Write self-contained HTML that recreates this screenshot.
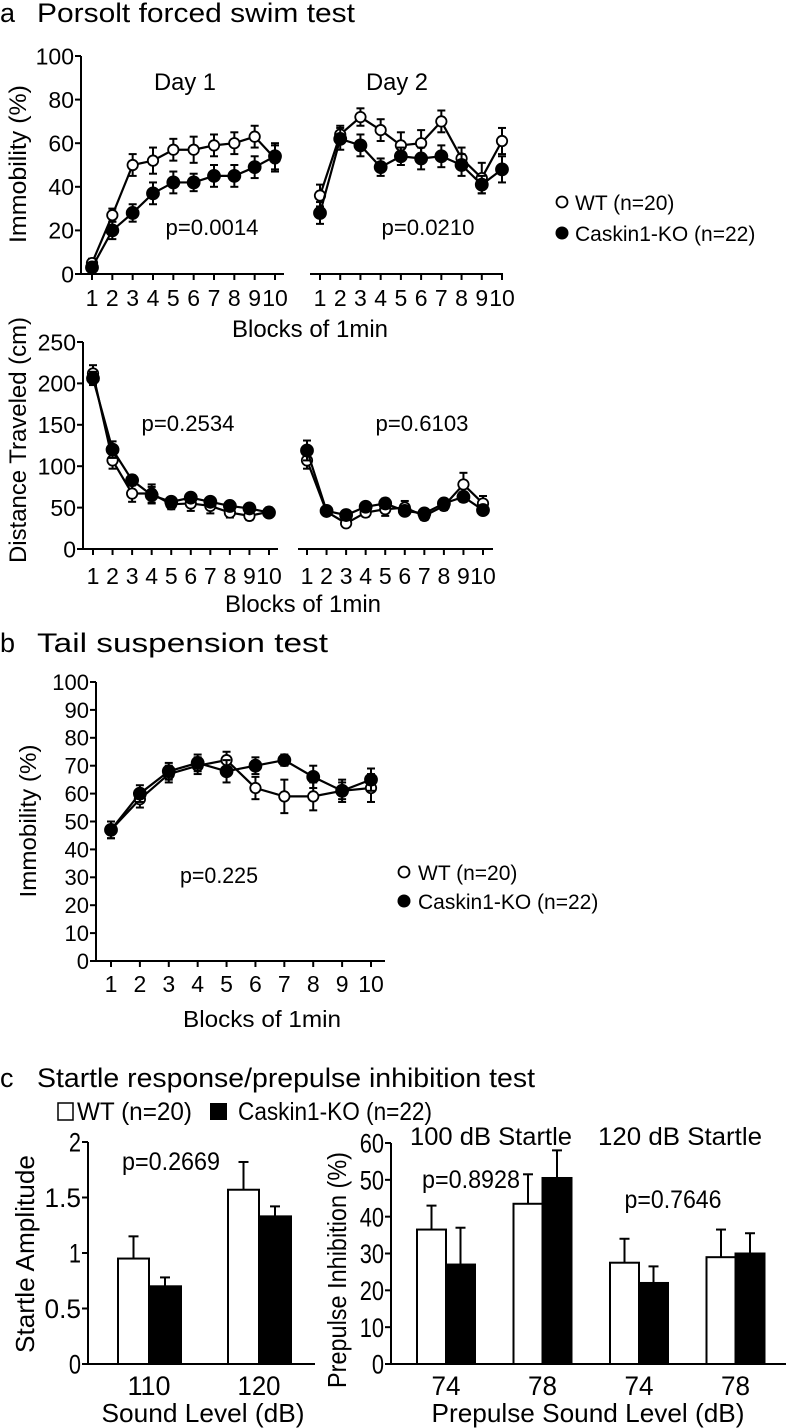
<!DOCTYPE html>
<html><head><meta charset="utf-8"><style>
html,body{margin:0;padding:0;background:#fff}
svg{display:block;font-family:"Liberation Sans",Arial,sans-serif}
</style></head><body>
<svg id="fig" width="786" height="1428" viewBox="0 0 786 1428" xmlns="http://www.w3.org/2000/svg">
<text x="0" y="22" font-size="27">a</text>
<text x="37" y="22" font-size="27" textLength="318" lengthAdjust="spacingAndGlyphs">Porsolt forced swim test</text>
<text x="0" y="652" font-size="27">b</text>
<text x="37" y="652" font-size="27" textLength="291" lengthAdjust="spacingAndGlyphs">Tail suspension test</text>
<text x="0" y="1087" font-size="27">c</text>
<text x="37" y="1087" font-size="27" textLength="498" lengthAdjust="spacingAndGlyphs">Startle response/prepulse inhibition test</text>
</svg>
<script>
// ---- data ----
const blocks = [1,2,3,4,5,6,7,8,9,10];
const blockLabelsA = ['1','2','3','4','5','6','7','8','9','10'];
const fstTicks = [0,20,40,60,80,100];
const fstDay1WT = [5,27,50,52,57,57,59,60,63,53];
const fstDay1WTerr = [2,3,5,6,5,6,5,5,5,6];
const fstDay1KO = [3,20,28,37,42,42,45,45,49,54];
const fstDay1KOerr = [2,4,4,5,5,4,5,5,5,6];
const fstDay2WT = [36,64,72,66,59,60,70,53,44,61];
const fstDay2WTerr = [5,4,4,5,6,6,5,5,7,6];
const fstDay2KO = [28,62,59,49,54,53,54,50,41,48];
const fstDay2KOerr = [5,5,5,4,4,5,5,5,4,6];
const distTicks = [0,50,100,150,200,250];
const distDay1WT = [212,107,67,67,54,55,52,44,40,45];
const distDay1WTerr = [10,10,10,11,6,9,9,6,5,5];
const distDay1KO = [206,120,83,65,57,62,57,52,49,44];
const distDay1KOerr = [8,10,6,10,5,5,5,5,5,5];
const distDay2WT = [107,45,31,44,48,50,40,52,78,55];
const distDay2WTerr = [10,4,4,5,8,8,5,5,14,9];
const distDay2KO = [119,46,41,51,55,46,43,55,63,47];
const distDay2KOerr = [12,4,4,4,6,5,4,5,6,4];
const tstTicks = [0,10,20,30,40,50,60,70,80,90,100];
const tstWT = [47,58,67,70,72,62,59,59,61,62];
const tstWTerr = [3,3,3,3,3,4,6,5,3,5];
const tstKO = [47,60,68,71,68,70,72,66,61,65];
const tstKOerr = [3,3,3,3,4,3,2,4,4,4];
const startleLevels = ['110','120'];
const startleWT = [0.95,1.57];
const startleWTerr = [0.2,0.25];
const startleKO = [0.7,1.33];
const startleKOerr = [0.08,0.09];
const startleTicks = [0,0.5,1,1.5,2];
const startleTickLabels = ['0','0.5','1','1.5','2'];
const ppiLevels = ['74','78','74','78'];
const ppiWT = [36.5,43.5,27.5,29];
const ppiWTerr = [6.5,8,6.5,7.5];
const ppiKO = [27,50.5,22,30];
const ppiKOerr = [10,7.5,4.5,5.5];
const ppiTicks = [0,10,20,30,40,50,60];

const NS='http://www.w3.org/2000/svg';
const svg=document.getElementById('fig');
function mk(tag,attrs,parent){const e=document.createElementNS(NS,tag);for(const k in attrs)e.setAttribute(k,attrs[k]);(parent||svg).appendChild(e);return e;}
function txt(x,y,s,size,anchor,parent,len){const t=mk('text',{x:x,y:y,'font-size':size,'text-anchor':anchor||'middle'},parent);
  if(len){t.setAttribute('textLength',len);t.setAttribute('lengthAdjust','spacingAndGlyphs');}
  t.textContent=s;return t;}
function vtxt(x,y,s,size,len){const t=txt(0,0,s,size,'middle',null,len);t.setAttribute('transform','translate('+x+','+y+') rotate(-90)');return t;}

function yAxis(g,x,y0,y1,vmax,ticks,labels,size,condensed){
  const sc=v=>y0-(v/vmax)*(y0-y1);
  mk('line',{x1:x,y1:y0,x2:x,y2:y1,stroke:'#000','stroke-width':2},g);
  ticks.forEach((v,i)=>{const y=sc(v);
    mk('line',{x1:x-6,y1:y,x2:x,y2:y,stroke:'#000','stroke-width':2},g);
    const s=labels?labels[i]:String(v);
    txt(x-7,y+size*0.36,s,size,'end',g,condensed?s.length*size*0.45:null);});
  return sc;
}
function series(g,xs,vals,errs,filled,name){
  const s=mk('g',{},g);
  
  
  let d='';
  vals.forEach((v,i)=>{d+=(i?'L':'M')+xs(i)+' '+v.sc(v.v)+' ';});
  mk('path',{d:d,fill:'none',stroke:'#000','stroke-width':2.2},s);
  vals.forEach((v,i)=>{const x=xs(i);const yt=v.sc(v.v+errs[i]),yb=v.sc(v.v-errs[i]);
    mk('line',{x1:x,y1:yt,x2:x,y2:yb,stroke:'#000','stroke-width':2},s);
    mk('line',{x1:x-4,y1:yt,x2:x+4,y2:yt,stroke:'#000','stroke-width':2},s);
    mk('line',{x1:x-4,y1:yb,x2:x+4,y2:yb,stroke:'#000','stroke-width':2},s);});
  vals.forEach((v,i)=>{const c=mk('circle',{cx:xs(i),cy:v.sc(v.v),r:filled?6:5.2,fill:filled?'#000':'#fff',stroke:'#000','stroke-width':1.8},s);
    
    });
}
function linePanel(name,axX0,axX1,x1,x10,sc,wt,wte,ko,koe,labelY,labSize){
  const g=mk('g',{});
  
  
  const y0=sc(0);
  mk('line',{x1:axX0,y1:y0,x2:axX1,y2:y0,stroke:'#000','stroke-width':2},g);
  const xs=i=>x1+(blocks[i]-1)*(x10-x1)/9;
  blocks.forEach((b,i)=>{mk('line',{x1:xs(i),y1:y0,x2:xs(i),y2:y0+6,stroke:'#000','stroke-width':2},g);
    txt(xs(i),labelY,blockLabelsA[i],labSize,'middle',g);});
  series(g,xs,wt.map(v=>({v:v,sc:sc})),wte,false,name+'-wt-line');
  series(g,xs,ko.map(v=>({v:v,sc:sc})),koe,true,name+'-ko-line');
  return g;
}

// ---- Panel a top ----
let ga=mk('g',{});  
const scA=yAxis(ga,81,274,56,100,fstTicks,null,23);
linePanel('fst-day1',77,284,92,275,scA,fstDay1WT,fstDay1WTerr,fstDay1KO,fstDay1KOerr,306,23);
linePanel('fst-day2',310,503,320,502,scA,fstDay2WT,fstDay2WTerr,fstDay2KO,fstDay2KOerr,306,23);
vtxt(26,164,'Immobility (%)',24,158);
txt(185,90,'Day 1',24,'middle',null,62);txt(397,90,'Day 2',24,'middle',null,62);
txt(212,235,'p=0.0014',22,'middle',null,93);txt(428,235,'p=0.0210',22,'middle',null,93);
txt(310,337,'Blocks of 1min',24,'middle',null,156);
// legend a
mk('circle',{cx:562,cy:202,r:5.5,fill:'#fff',stroke:'#000','stroke-width':1.8});
txt(575,210,'WT (n=20)',21,'start');
mk('circle',{cx:562,cy:233,r:6.5,fill:'#000'});
txt(575,241,'Caskin1-KO (n=22)',21,'start');

// ---- Panel a bottom ----
let gd=mk('g',{});  
const scD=yAxis(gd,83,549,342,250,distTicks,null,23);
linePanel('dist-day1',83,278,93,269,scD,distDay1WT,distDay1WTerr,distDay1KO,distDay1KOerr,584,23);
linePanel('dist-day2',298,493,307,483,scD,distDay2WT,distDay2WTerr,distDay2KO,distDay2KOerr,584,23);
vtxt(26,440,'Distance Traveled (cm)',24,246);
txt(188,431,'p=0.2534',22,'middle',null,93);txt(422,431,'p=0.6103',22,'middle',null,93);
txt(303,612,'Blocks of 1min',24,'middle',null,156);

// ---- Panel b ----
let gb=mk('g',{});  
const scB=yAxis(gb,96,961,682,100,tstTicks,null,22);
linePanel('tst',96,385,111,371,scB,tstWT,tstWTerr,tstKO,tstKOerr,992,23);
vtxt(36,821,'Immobility (%)',23,153);
txt(219,883,'p=0.225',22,'middle',null,78);
txt(262,1027,'Blocks of 1min',23,'middle',null,158);
mk('circle',{cx:404,cy:872,r:5.5,fill:'#fff',stroke:'#000','stroke-width':1.8});
txt(418,880,'WT (n=20)',21,'start');
mk('circle',{cx:404,cy:901,r:6.5,fill:'#000'});
txt(418,909,'Caskin1-KO (n=22)',21,'start');

// ---- Panel c ----
function bars(name,g,xs,sc,vals,errs,w,filled){
  vals.forEach((v,i)=>{const x=xs(i);
    const r=mk('rect',{x:x,y:sc(v),width:w,height:sc(0)-sc(v),fill:filled?'#000':'#fff',stroke:'#000','stroke-width':2},g);
    
    
    const cx=x+w/2,yt=sc(v+errs[i]);
    mk('line',{x1:cx,y1:sc(v),x2:cx,y2:yt,stroke:'#000','stroke-width':2},g);
    mk('line',{x1:cx-5,y1:yt,x2:cx+5,y2:yt,stroke:'#000','stroke-width':2},g);});
}
let gs=mk('g',{});  
const scS=yAxis(gs,88,1364,1142,2,startleTicks,startleTickLabels,27,true);
mk('line',{x1:88,y1:1364,x2:315,y2:1364,stroke:'#000','stroke-width':2},gs);
const sx=i=>118+i*110;
bars('startle-wt',gs,sx,scS,startleWT,startleWTerr,31,false);
bars('startle-ko',gs,i=>sx(i)+31,scS,startleKO,startleKOerr,32,true);
startleLevels.forEach((l,i)=>txt(sx(i)+31,1395,l,27,'middle',gs,43));
txt(203,1422,'Sound Level (dB)',26,'middle',null,203);
vtxt(34,1254,'Startle Amplitude',26,198);
txt(171,1170,'p=0.2669',25,'middle',null,98);

let gp=mk('g',{});  
const scP=yAxis(gp,391,1364,1143,60,ppiTicks,null,27,true);
mk('line',{x1:391,y1:1364,x2:786,y2:1364,stroke:'#000','stroke-width':2},gp);
const px=i=>417+i*96.5;
bars('ppi-wt',gp,px,scP,ppiWT,ppiWTerr,29,false);
bars('ppi-ko',gp,i=>px(i)+29,scP,ppiKO,ppiKOerr,29,true);
ppiLevels.forEach((l,i)=>txt(px(i)+29,1395,l,27,'middle',gp,29));
txt(588,1422,'Prepulse Sound Level (dB)',26,'middle',null,313);
vtxt(346,1270,'Prepulse Inhibition (%)',26,236);
txt(491,1145,'100 dB Startle',25,'middle',null,162);txt(680,1145,'120 dB Startle',25,'middle',null,164);
txt(471,1188,'p=0.8928',25,'middle',null,98);txt(673,1208,'p=0.7646',25,'middle',null,97);
// legend c
mk('rect',{x:58,y:1103,width:15,height:17,fill:'#fff',stroke:'#000','stroke-width':1.5});
txt(77,1120,'WT (n=20)',25,'start',null,115);
mk('rect',{x:210,y:1103,width:17,height:17,fill:'#000'});
txt(238,1120,'Caskin1-KO (n=22)',25,'start',null,194);
</script>
</body></html>
